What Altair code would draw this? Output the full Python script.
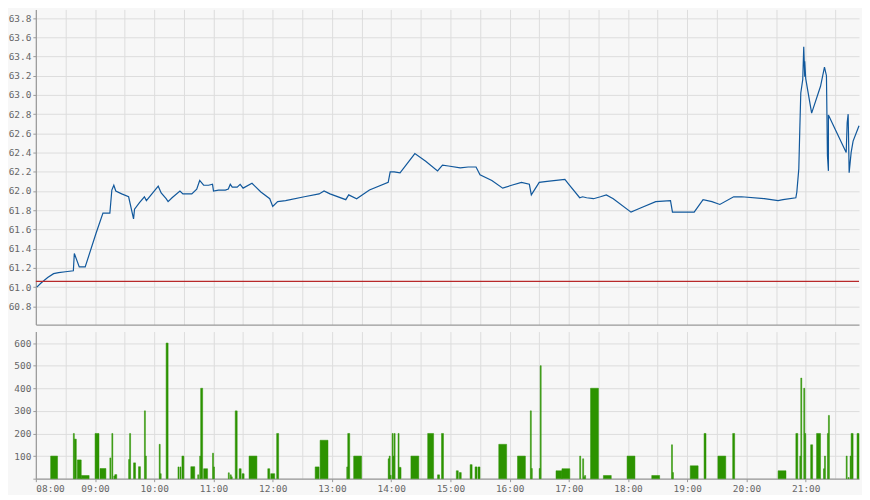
import altair as alt
import pandas as pd

# ---- price line (minutes after 08:00, price) ----
price_min = [1, 5, 12, 18, 23, 30, 38, 39, 44, 50, 61, 68, 75, 77, 79, 81, 87, 94, 99, 100,
             105, 110, 112, 124, 127, 132, 134, 138, 146, 149, 158, 163, 166, 170, 175, 179, 180, 185, 192, 195,
             197, 199, 204, 207, 210, 219, 228, 237, 240, 245, 253, 272, 287, 292, 298, 314, 317, 325, 338, 357,
             359, 363, 369, 384, 395, 407, 412, 418, 430, 438, 446, 450, 462, 473, 482, 492, 500, 502, 510, 518,
             536, 540, 551, 554, 558, 565, 572, 578, 585, 603, 612, 628, 643, 645, 667, 676, 685, 693, 707, 715,
             738, 752, 757, 770, 771, 773, 774, 775, 777, 778, 779, 779, 780, 786, 795, 799, 801, 802, 803, 803,
             821, 822, 823, 824, 826, 828, 834]
price_val = [61.00, 61.04, 61.10, 61.14, 61.15, 61.16, 61.17, 61.35, 61.21, 61.21, 61.56, 61.77, 61.77, 62.01, 62.06, 62.00, 61.97, 61.94, 61.71, 61.81,
             61.88, 61.94, 61.90, 62.05, 61.98, 61.92, 61.89, 61.93, 62.00, 61.97, 61.97, 62.02, 62.11, 62.06, 62.06, 62.07, 62.00, 62.01, 62.01, 62.02,
             62.07, 62.04, 62.04, 62.07, 62.03, 62.08, 61.99, 61.92, 61.84, 61.89, 61.90, 61.94, 61.97, 62.00, 61.97, 61.91, 61.96, 61.92, 62.01, 62.09,
             62.20, 62.20, 62.19, 62.39, 62.31, 62.21, 62.27, 62.26, 62.24, 62.25, 62.25, 62.17, 62.11, 62.03, 62.06, 62.09, 62.07, 61.96, 62.09, 62.10,
             62.12, 62.07, 61.93, 61.94, 61.93, 61.92, 61.94, 61.96, 61.92, 61.78, 61.82, 61.89, 61.90, 61.78, 61.78, 61.91, 61.89, 61.86, 61.94, 61.94,
             61.92, 61.90, 61.91, 61.93, 61.99, 62.23, 62.64, 63.02, 63.16, 63.50, 63.19, 63.35, 63.17, 62.81, 63.09, 63.29, 63.20, 62.37, 62.21, 62.79,
             62.40, 62.71, 62.80, 62.19, 62.40, 62.52, 62.68]
prev_close = 61.06

# ---- volume bars (start minute, end minute, volume) ----
vol_start = [15, 38, 39, 42, 46, 60, 65, 75, 77, 79, 80, 94, 95, 99, 104, 110, 111, 125, 126, 132,
             144, 146, 148, 157, 164, 166, 167, 170, 179, 180, 195, 197, 198, 202, 206, 209, 216, 235, 238, 244,
             283, 288, 315, 316, 322, 357, 358, 359, 361, 362, 363, 367, 368, 380, 397, 407, 411, 426, 429, 440,
             445, 448, 469, 488, 501, 502, 510, 511, 527, 533, 551, 554, 555, 556, 562, 575, 599, 624, 644, 645,
             663, 677, 691, 706, 752, 770, 774, 775, 778, 779, 785, 791, 798, 799, 802, 803, 821, 823, 825, 826, 832]
vol_end = [22, 39, 41, 46, 54, 64, 71, 76, 78, 80, 82, 95, 96, 101, 106, 111, 112, 126, 127, 134,
           145, 147, 150, 161, 165, 167, 169, 174, 180, 181, 196, 198, 199, 204, 208, 211, 224, 237, 242, 246,
           287, 296, 316, 318, 330, 358, 359, 360, 362, 363, 364, 368, 370, 388, 403, 409, 413, 428, 431, 442,
           447, 450, 477, 496, 502, 503, 511, 512, 533, 541, 552, 555, 556, 557, 570, 583, 607, 632, 645, 646,
           671, 679, 699, 708, 760, 772, 775, 776, 779, 780, 787, 795, 799, 800, 803, 804, 822, 824, 826, 828, 834]
vol_val = [100, 200, 175, 83, 14, 200, 45, 92, 200, 12, 18, 85, 200, 70, 53, 300, 100, 152, 22, 600,
           52, 52, 100, 53, 17, 100, 400, 44, 113, 52, 26, 17, 8, 300, 44, 22, 100, 44, 22, 200,
           52, 170, 52, 200, 100, 88, 100, 15, 200, 100, 200, 200, 50, 100, 200, 17, 200, 35, 27, 62,
           52, 52, 152, 100, 300, 45, 45, 500, 35, 44, 100, 88, 8, 14, 400, 14, 100, 14, 150, 27,
           57, 200, 100, 200, 35, 200, 100, 445, 400, 200, 150, 200, 44, 100, 200, 280, 100, 5, 100, 200, 200]

x_ticks = list(range(0, 835, 30))
price_ticks = [60.8, 61.0, 61.2, 61.4, 61.6, 61.8, 62.0, 62.2, 62.4, 62.6, 62.8, 63.0, 63.2, 63.4, 63.6, 63.8]
vol_ticks = [0, 100, 200, 300, 400, 500, 600]

price_df = pd.DataFrame({"t": price_min, "price": price_val, "idx": range(len(price_min))})
vol_df = pd.DataFrame({"t0": vol_start, "t1": vol_end, "vol": vol_val})
ref_df = pd.DataFrame({"price": [prev_close]})

X_DOMAIN = [0, 834]
W = 828
label_expr = ("datum.value % 60 === 0 ? ((8 + floor(datum.value / 60)) < 10 ? '0' : '') "
              "+ (8 + floor(datum.value / 60)) + ':00' : ''")

x_top = alt.X("t:Q", scale=alt.Scale(domain=X_DOMAIN, nice=False, zero=False),
              axis=alt.Axis(values=x_ticks, labels=False, ticks=False, title=None))
y_price_scale = alt.Scale(domain=[60.61, 63.89], nice=False, zero=False)
y_price_axis = alt.Axis(values=price_ticks, format=".1f", title=None, labelOverlap=False)

line = alt.Chart(price_df).mark_line(color="#11589c", strokeWidth=1.2, interpolate="linear").encode(
    x=x_top,
    y=alt.Y("price:Q", scale=y_price_scale, axis=y_price_axis),
    order="idx:Q",
)
ref = alt.Chart(ref_df).mark_rule(color="#b8282a", strokeWidth=1.2).encode(
    y=alt.Y("price:Q", scale=y_price_scale, axis=y_price_axis)
)
top = alt.layer(line, ref).properties(width=W, height=317)

bars = alt.Chart(vol_df).mark_bar(color="#2c9300", stroke="#2c9300", strokeWidth=0.5).encode(
    x=alt.X("t0:Q", scale=alt.Scale(domain=X_DOMAIN, nice=False, zero=False),
            axis=alt.Axis(values=x_ticks, labelExpr=label_expr, title=None, labelOverlap=False,
                          tickOpacity={"condition": {"test": "datum.value % 60 === 0", "value": 1}, "value": 0})),
    x2="t1:Q",
    y=alt.Y("vol:Q", scale=alt.Scale(domain=[0, 651], nice=False),
            axis=alt.Axis(values=vol_ticks, labelExpr="datum.value === 0 ? '' : datum.label",
                          title=None, labelOverlap=False)),
    y2=alt.datum(0),
).properties(width=W, height=148)

chart = alt.vconcat(top, bars, spacing=7).properties(
    padding={"left": 0, "top": 0, "right": 0, "bottom": 0},
    background="#f7f7f7",
).configure_view(stroke=None).configure_axis(
    labelFont="DejaVu Sans Mono", labelFontSize=9.5, labelColor="#666666",
    labelPadding=2, tickSize=3, tickColor="#999999",
    domainColor="#999999", domainWidth=1.2,
    gridColor="#dddddd", gridWidth=1,
)

chart.save("out.html", embed_options={"renderer": "svg", "actions": False})
